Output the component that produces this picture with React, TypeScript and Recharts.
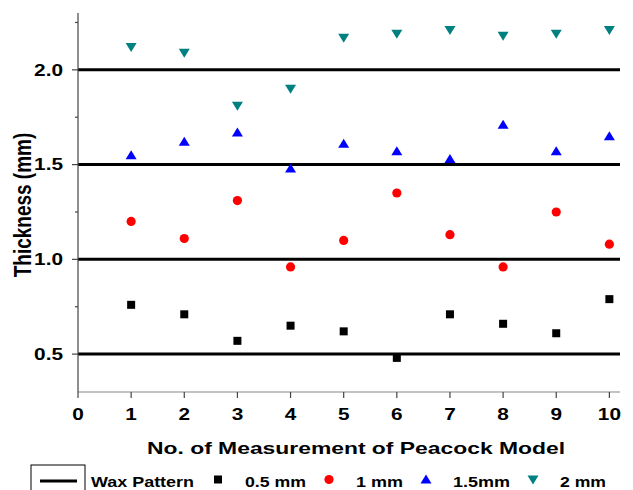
import React from 'react';
import { ScatterChart, Scatter, XAxis, YAxis, ReferenceLine, Legend, Label } from 'recharts';

const measurements = [1, 2, 3, 4, 5, 6, 7, 8, 9, 10];
const thick05 = [0.76, 0.71, 0.57, 0.65, 0.62, 0.48, 0.71, 0.66, 0.61, 0.79];
const thick10 = [1.2, 1.11, 1.31, 0.96, 1.1, 1.35, 1.13, 0.96, 1.25, 1.08];
const thick15 = [1.55, 1.62, 1.67, 1.48, 1.61, 1.57, 1.53, 1.71, 1.57, 1.65];
const thick20 = [2.12, 2.09, 1.81, 1.9, 2.17, 2.19, 2.21, 2.18, 2.19, 2.21];
const waxLevels = [0.5, 1.0, 1.5, 2.0];
const xTicks = [0, 1, 2, 3, 4, 5, 6, 7, 8, 9, 10];
const yTicks = [0.5, 0.75, 1.0, 1.25, 1.5, 1.75, 2.0, 2.25];

const FONT = '"Liberation Sans", Arial, sans-serif';
const STRETCH = 1.3;

const toPts = (vals: number[]) => measurements.map((m, i) => ({ x: m, y: vals[i] }));

type Kind = 'square' | 'circle' | 'up' | 'down';

const Marker = ({ cx, cy, kind, color }: { cx: number; cy: number; kind: Kind; color: string }) => {
  if (kind === 'square') return <rect x={cx - 4} y={cy - 4} width={8} height={8} fill={color} />;
  if (kind === 'circle') return <circle cx={cx} cy={cy} r={4.6} fill={color} />;
  if (kind === 'up')
    return <polygon points={`${cx - 5.5},${cy + 4} ${cx + 5.5},${cy + 4} ${cx},${cy - 5}`} fill={color} />;
  return <polygon points={`${cx - 5.5},${cy - 4} ${cx + 5.5},${cy - 4} ${cx},${cy + 5}`} fill={color} />;
};

const series = [
  { name: '0.5 mm', data: toPts(thick05), kind: 'square' as Kind, color: '#000000' },
  { name: '1 mm', data: toPts(thick10), kind: 'circle' as Kind, color: '#ff0000' },
  { name: '1.5mm', data: toPts(thick15), kind: 'up' as Kind, color: '#0000ff' },
  { name: '2 mm', data: toPts(thick20), kind: 'down' as Kind, color: '#008080' },
];

const legendItems = [
  { label: 'Wax Pattern', kind: 'line', color: '#000', mx: 58, tx: 91, w: 103 },
  { label: '0.5 mm', kind: 'square', color: '#000000', mx: 218, tx: 245, w: 61 },
  { label: '1 mm', kind: 'circle', color: '#ff0000', mx: 329, tx: 356, w: 47 },
  { label: '1.5mm', kind: 'up', color: '#0000ff', mx: 426, tx: 453, w: 57 },
  { label: '2 mm', kind: 'down', color: '#008080', mx: 533, tx: 560, w: 46 },
];

const YTick = (props: any) => {
  const { x, y, payload } = props;
  const v = payload.value as number;
  const major = Math.abs(v * 2 - Math.round(v * 2)) < 1e-6;
  return (
    <g>
      <line x1={x - (major ? 6 : 3)} x2={x} y1={y} y2={y} stroke="#444" strokeWidth={1.2} />
      {major && (
        <text
          transform={`translate(${x - 15},${y}) scale(${STRETCH},1)`}
          dy="0.36em"
          textAnchor="end"
          fontFamily={FONT}
          fontWeight="bold"
          fontSize={16}
          fill="#000"
        >
          {v.toFixed(1)}
        </text>
      )}
    </g>
  );
};

const XTick = (props: any) => {
  const { x, y, payload } = props;
  return (
    <g>
      <line x1={x} x2={x} y1={y} y2={y + 6} stroke="#444" strokeWidth={1.2} />
      <text
        transform={`translate(${x},${y + 22}) scale(${STRETCH},1)`}
        dy="0.36em"
        textAnchor="middle"
        fontFamily={FONT}
        fontWeight="bold"
        fontSize={16}
        fill="#000"
      >
        {payload.value}
      </text>
    </g>
  );
};

const LegendContent = () => (
  <svg width={633} height={35} style={{ display: 'block' }}>
    <rect x={31} y={10} width={54} height={40} fill="none" stroke="#000" strokeWidth={1} />
    {legendItems.map((it) => (
      <g key={it.label}>
        {it.kind === 'line' ? (
          <line x1={40} x2={77} y1={26} y2={26} stroke="#000" strokeWidth={3} />
        ) : (
          <Marker cx={it.mx} cy={24.5} kind={it.kind as Kind} color={it.color} />
        )}
        <text
          x={it.tx}
          y={26.5}
          dy="0.36em"
          textLength={it.w}
          lengthAdjust="spacingAndGlyphs"
          fontFamily={FONT}
          fontWeight="bold"
          fontSize={15}
          fill="#000"
        >
          {it.label}
        </text>
      </g>
    ))}
  </svg>
);

export default function App() {
  return (
    <div style={{ position: 'absolute', left: 0, top: 0, width: 633, height: 490, background: '#fff' }}>
      <ScatterChart width={633} height={490} margin={{ top: 13, right: 13, left: 0, bottom: 33 }}>
        <XAxis
          type="number"
          dataKey="x"
          domain={[0, 10.2]}
          ticks={xTicks}
          allowDataOverflow
          tickLine={false}
          tickSize={0}
          tickMargin={0}
          tick={<XTick />}
          axisLine={{ stroke: '#888', strokeWidth: 1.2 }}
          height={30}
        >
          <Label
            content={() => (
              <text
                x={147}
                y={448}
                dy="0.36em"
                textLength={418}
                lengthAdjust="spacingAndGlyphs"
                fontFamily={FONT}
                fontWeight="bold"
                fontSize={17}
                fill="#000"
              >
                No. of Measurement of Peacock Model
              </text>
            )}
          />
        </XAxis>
        <YAxis
          type="number"
          dataKey="y"
          domain={[0.3, 2.3]}
          ticks={yTicks}
          allowDataOverflow
          tickLine={false}
          tickSize={0}
          tickMargin={0}
          tick={<YTick />}
          axisLine={{ stroke: '#444', strokeWidth: 1.2 }}
          width={78}
        >
          <Label
            content={() => (
              <text
                transform={`translate(22,205) rotate(-90) scale(1,${STRETCH})`}
                dy="0.36em"
                textAnchor="middle"
                fontFamily={FONT}
                fontWeight="bold"
                fontSize={19}
                fill="#000"
              >
                Thickness (mm)
              </text>
            )}
          />
        </YAxis>
        {waxLevels.map((v) => (
          <ReferenceLine key={v} y={v} stroke="#000" strokeWidth={3} ifOverflow="extendDomain" />
        ))}
        {series.map((s) => (
          <Scatter
            key={s.name}
            name={s.name}
            data={s.data}
            fill={s.color}
            isAnimationActive={false}
            shape={(p: any) => <Marker cx={p.cx} cy={p.cy} kind={s.kind} color={s.color} />}
          />
        ))}
        <Legend
          content={<LegendContent />}
          wrapperStyle={{ position: 'absolute', left: 0, top: 455, width: 633, height: 35, overflow: 'hidden' }}
        />
      </ScatterChart>
    </div>
  );
}
